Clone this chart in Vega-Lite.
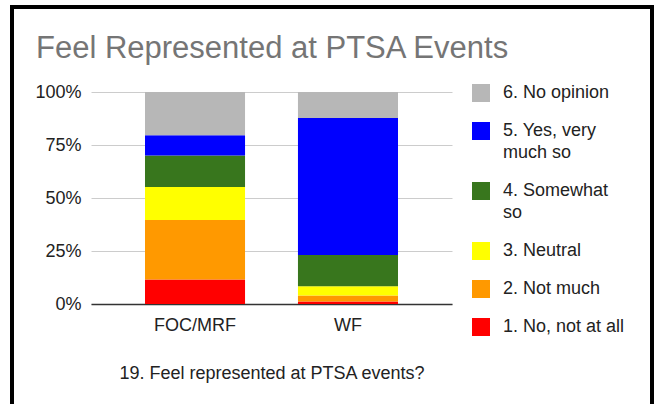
{
  "$schema": "https://vega.github.io/schema/vega-lite/v6.json",
  "autosize": {"type": "none"},
  "padding": {"left": 12, "top": 7, "right": 7, "bottom": -4},
  "width": 640,
  "height": 401,
  "background": "white",
  "title": {
    "text": "Feel Represented at PTSA Events",
    "anchor": "start",
    "frame": "group",
    "orient": "top",
    "baseline": "alphabetic",
    "offset": -82,
    "dx": 24,
    "font": "Liberation Sans",
    "fontSize": 31,
    "fontWeight": "normal",
    "color": "#757575"
  },
  "data": {
    "values": [
      {"group": "FOC/MRF", "response": "1. No, not at all", "code": 1, "pct": 11.6},
      {"group": "FOC/MRF", "response": "2. Not much", "code": 2, "pct": 28.0},
      {"group": "FOC/MRF", "response": "3. Neutral", "code": 3, "pct": 15.6},
      {"group": "FOC/MRF", "response": "4. Somewhat so", "code": 4, "pct": 14.8},
      {"group": "FOC/MRF", "response": "5. Yes, very much so", "code": 5, "pct": 9.6},
      {"group": "FOC/MRF", "response": "6. No opinion", "code": 6, "pct": 20.4},
      {"group": "WF", "response": "1. No, not at all", "code": 1, "pct": 1.2},
      {"group": "WF", "response": "2. Not much", "code": 2, "pct": 2.8},
      {"group": "WF", "response": "3. Neutral", "code": 3, "pct": 4.4},
      {"group": "WF", "response": "4. Somewhat so", "code": 4, "pct": 14.7},
      {"group": "WF", "response": "5. Yes, very much so", "code": 5, "pct": 64.6},
      {"group": "WF", "response": "6. No opinion", "code": 6, "pct": 12.3}
    ]
  },
  "mark": {"type": "bar"},
  "encoding": {
    "x": {
      "field": "group",
      "type": "nominal",
      "scale": {"range": [79, 440], "paddingInner": 0.346, "paddingOuter": 0.353},
      "axis": {
        "title": "19. Feel represented at PTSA events?",
        "labelAngle": 0,
        "offset": -104,
        "ticks": false,
        "tickSize": 0,
        "labelPadding": 12,
        "labelFontSize": 18,
        "labelColor": "#222222",
        "labelFont": "Liberation Sans",
        "titleFont": "Liberation Sans",
        "titleFontSize": 18,
        "titleFontWeight": "normal",
        "titleColor": "#222222",
        "titlePadding": 30,
        "domainColor": "#333333",
        "domainWidth": 1.5
      }
    },
    "y": {
      "field": "pct",
      "type": "quantitative",
      "stack": "normalize",
      "scale": {"range": [297, 85], "domain": [0, 1]},
      "axis": {
        "title": null,
        "values": [0, 0.25, 0.5, 0.75, 1],
        "format": ".0%",
        "offset": -79,
        "ticks": false,
        "tickSize": 0,
        "domain": false,
        "labelPadding": 10,
        "labelFontSize": 18,
        "labelColor": "#222222",
        "labelFont": "Liberation Sans",
        "gridColor": "#cccccc",
        "gridWidth": 1
      }
    },
    "color": {
      "field": "response",
      "type": "nominal",
      "scale": {
        "domain": ["6. No opinion", "5. Yes, very much so", "4. Somewhat so", "3. Neutral", "2. Not much", "1. No, not at all"],
        "range": ["#b7b7b7", "#0000ff", "#38761d", "#ffff00", "#ff9900", "#ff0000"]
      },
      "legend": {
        "title": null,
        "orient": "none",
        "legendX": 460,
        "legendY": 77,
        "symbolType": "square",
        "symbolSize": 324,
        "symbolStrokeWidth": 0,
        "symbolOpacity": 1,
        "labelFont": "Liberation Sans",
        "labelFontSize": 18,
        "labelColor": "#222222",
        "labelOffset": 13,
        "labelLimit": 200,
        "rowPadding": 20,
        "labelExpr": "datum.label == '5. Yes, very much so' ? ['5. Yes, very', 'much so'] : datum.label == '4. Somewhat so' ? ['4. Somewhat', 'so'] : datum.label"
      }
    },
    "order": {"field": "code", "type": "quantitative", "sort": "ascending"}
  },
  "config": {
    "view": {"stroke": "#000000", "strokeWidth": 4, "fill": "white"},
    "font": "Liberation Sans",
    "style": {"guide-label": {"lineHeight": 22}}
  }
}
